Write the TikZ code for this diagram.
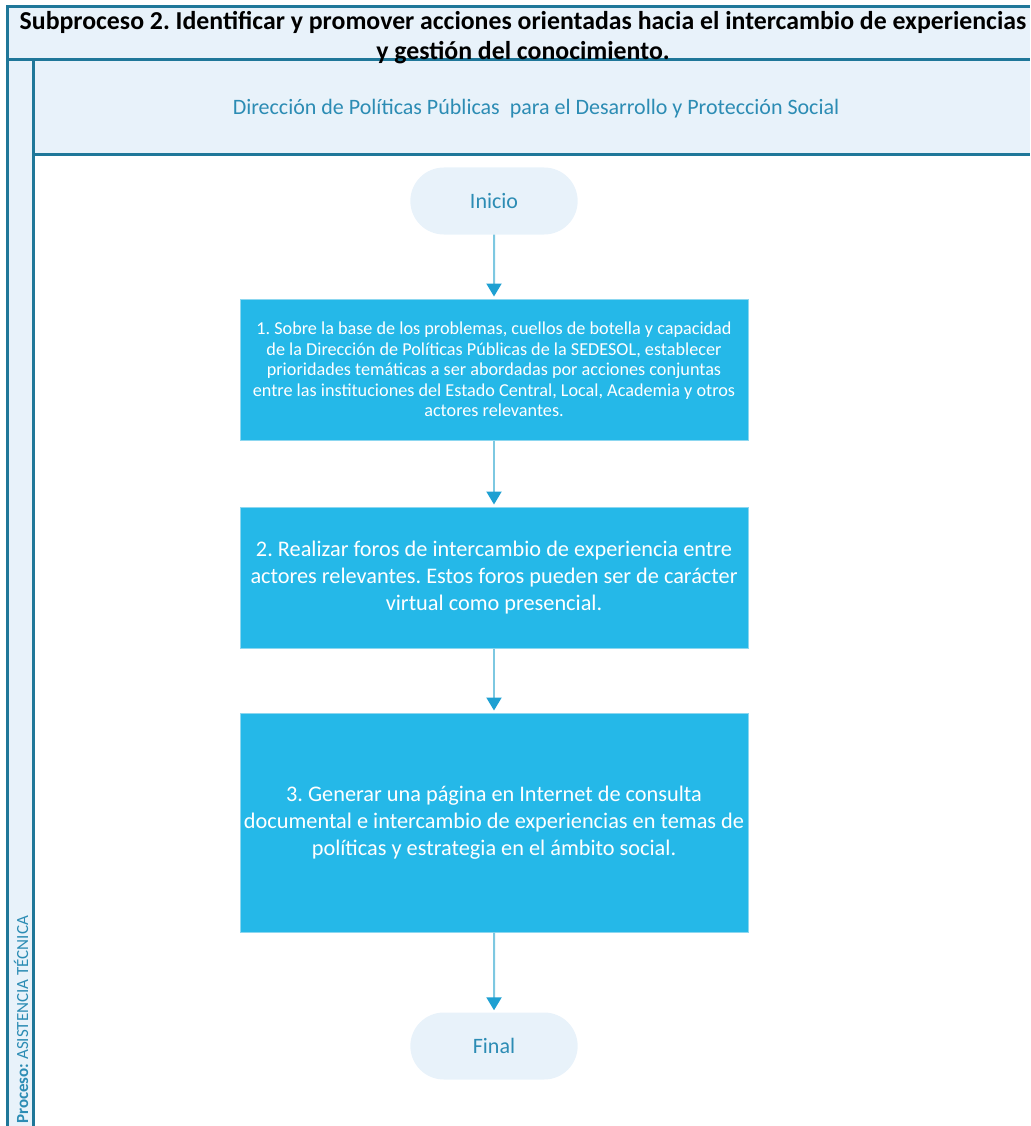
\documentclass[tikz,border=0pt]{standalone}
\usepackage{fontspec}
\setmainfont{Carlito}
\frenchspacing
\definecolor{framecol}{RGB}{31,119,153}
\definecolor{lanefill}{RGB}{232,242,250}
\definecolor{taskfill}{RGB}{37,184,232}
\definecolor{taskline}{RGB}{140,215,240}
\definecolor{flowline}{RGB}{125,200,225}
\definecolor{flowhead}{RGB}{30,160,210}
\definecolor{lanetext}{RGB}{44,140,180}
\usetikzlibrary{positioning,shapes.misc,arrows.meta}

\begin{document}
\begin{tikzpicture}[x=1pt,y=-1pt,
    frameline/.style={framecol,line width=3pt},
    terminal/.style={rounded rectangle,fill=lanefill,minimum width=174pt,minimum height=67pt,text=lanetext,font=\fontsize{22}{26}\selectfont},
    task/.style={rectangle,fill=taskfill,draw=taskline,line width=1pt,minimum width=508pt,inner xsep=0pt,text=white,align=center},
    flow/.style={flowline,line width=2pt,-{Triangle[width=15pt,length=13pt,color=flowhead]},shorten >=2pt}]
    \useasboundingbox (0,0) rectangle (1030,1126);
    % pool and lane
    \fill[lanefill] (7,7) rectangle (1030,60);
    \fill[lanefill] (7,60) rectangle (33,1126);
    \fill[lanefill] (33,60) rectangle (1030,155);
    \draw[frameline] (7,1126) -- (7,7) -- (1030,7);
    \draw[frameline] (7,60) -- (1030,60);
    \draw[frameline] (33,60) -- (33,1126);
    \draw[frameline] (33,155) -- (1030,155);
    \node[align=center,inner sep=0pt,font=\bfseries\fontsize{25.8}{30}\selectfont] (title) at (523,37.5)
        {Subproceso 2. Identificar y promover acciones orientadas hacia el intercambio de experiencias\\ y gestión del conocimiento.};
    \node[text=lanetext,font=\fontsize{22}{26}\selectfont] (lane) at (536,109)
        {Dirección de Políticas Públicas \ para el Desarrollo y Protección Social};
    \node[rotate=90,anchor=west,text=lanetext,font=\fontsize{17}{20}\selectfont,inner sep=0pt] (proc) at (21,1124)
        {\textbf{Proceso:} ASISTENCIA TÉCNICA};

    % flow
    \node[terminal] (inicio) at (494,201) {Inicio};
    \node[task,minimum height=141pt,font=\fontsize{18.2}{20.5}\selectfont] (t1) at (494,369.5)
        {1. Sobre la base de los problemas, cuellos de botella y capacidad\\ de la Dirección de Políticas Públicas de la SEDESOL, establecer\\ prioridades temáticas a ser abordadas por acciones conjuntas\\ entre las instituciones del Estado Central, Local, Academia y otros\\ actores relevantes.};
    \node[task,minimum height=141pt,font=\fontsize{22.3}{27}\selectfont] (t2) at (494,577.5)
        {2. Realizar foros de intercambio de experiencia entre\\ actores relevantes. Estos foros pueden ser de carácter\\ virtual como presencial.};
    \node[task,minimum height=219pt,font=\fontsize{22.3}{27}\selectfont] (t3) at (494,822.5)
        {3. Generar una página en Internet de consulta\\ documental e intercambio de experiencias en temas de\\ políticas y estrategia en el ámbito social.};
    \node[terminal] (final) at (494,1046) {Final};

    \draw[flow] (inicio) -- (t1);
    \draw[flow] (t1) -- (t2);
    \draw[flow] (t2) -- (t3);
    \draw[flow] (t3) -- (final);
\end{tikzpicture}
\end{document}
